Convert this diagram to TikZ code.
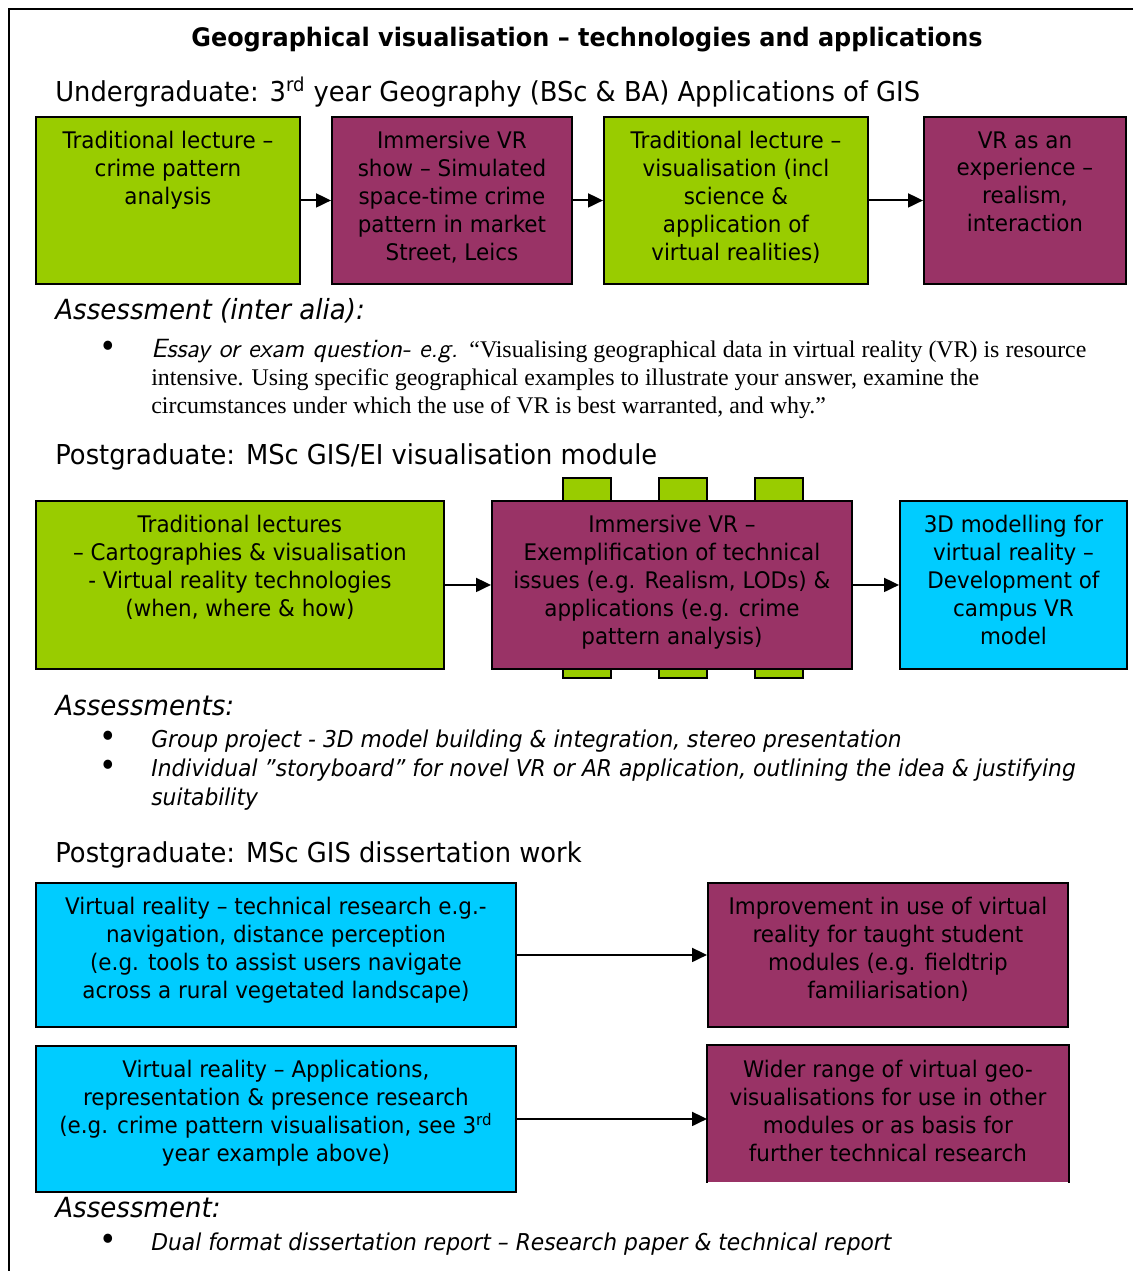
\documentclass[tikz,border=0pt]{standalone}
\usepackage{fontspec}
\setmainfont{DejaVu Sans}[FakeStretch=0.94]
\newfontfamily\quotefont{Liberation Serif}
\usetikzlibrary{arrows.meta}
\definecolor{lecgreen}{HTML}{99CC00}
\definecolor{vrpurple}{HTML}{993366}
\definecolor{vrblue}{HTML}{00CCFF}
\tikzset{
  card/.style={draw, line width=1.1pt, anchor=north west, inner sep=0pt},
  cardtext/.style={anchor=north, inner sep=0pt, align=center, font=\fontsize{13}{15.9}\selectfont},
  heading/.style={anchor=base west, inner sep=0pt, font=\fontsize{15.6}{18}\selectfont},
  assess/.style={anchor=base west, inner sep=0pt, font=\fontsize{15.8}{18}\selectfont\itshape},
  dot/.style={anchor=base, inner sep=0pt, font=\fontsize{18}{18}\selectfont},
  bullettext/.style={anchor=base west, inner sep=0pt, align=left, font=\fontsize{13.2}{16.5}\selectfont\itshape},
  flow/.style={line width=1.1pt, -{Triangle[length=0.3cm,width=0.28cm]}}
}

\begin{document}
\begin{tikzpicture}[x=0.02cm, y=-0.02cm]
\useasboundingbox (0,0) rectangle (1133,1271);
\draw[line width=1.7pt] (1133,9) -- (9,9) -- (9,1271);

\node[anchor=base, inner sep=0pt, font=\fontsize{14.5}{16}\selectfont\bfseries] (title) at (587,46)
  {Geographical visualisation – technologies and applications};

\node[heading] (ug) at (55,101) {Undergraduate: 3\textsuperscript{rd} year Geography (BSc \& BA) Applications of GIS};

\node[card, fill=lecgreen, minimum width=5.28cm, minimum height=3.34cm] (ugA) at (35,116) {};
\node[card, fill=vrpurple, minimum width=4.8cm, minimum height=3.34cm] (ugB) at (331,116) {};
\node[card, fill=lecgreen, minimum width=5.28cm, minimum height=3.34cm] (ugC) at (603,116) {};
\node[card, fill=vrpurple, minimum width=4.04cm, minimum height=3.34cm] (ugD) at (923,116) {};
\node[cardtext] (ugAtext) at ([yshift=-0.3cm]ugA.north) {Traditional lecture –\\crime pattern\\analysis};
\node[cardtext] (ugBtext) at ([yshift=-0.3cm]ugB.north) {Immersive VR\\show – Simulated\\space-time crime\\pattern in market\\Street, Leics};
\node[cardtext] (ugCtext) at ([yshift=-0.3cm]ugC.north) {Traditional lecture –\\visualisation (incl\\science \&\\application of\\virtual realities)};
\node[cardtext] (ugDtext) at ([yshift=-0.3cm]ugD.north) {VR as an\\experience –\\realism,\\interaction};
\draw[flow] (ugA) -- (ugB);
\draw[flow] (ugB) -- (ugC);
\draw[flow] (ugC) -- (ugD);

\node[assess] (ugassess) at (55,319) {Assessment (inter alia):};
\node[dot] (ugdot) at (108,357) {•};
\node[anchor=base west, inner sep=0pt, align=left, font=\quotefont\fontsize{13.6}{15.9}\selectfont] (ugquote) at (151,413)
  {{\sffamily\itshape\fontsize{15}{15.9}\selectfont Essay or exam question- e.g. }“Visualising geographical data in virtual reality (VR) is resource\\
   intensive. Using specific geographical examples to illustrate your answer, examine the\\
   circumstances under which the use of VR is best warranted, and why.”};

\node[heading] (pg) at (55,464) {Postgraduate: MSc GIS/EI visualisation module};

\foreach \tx in {563,659,755}
  \draw[fill=lecgreen, line width=1.1pt] (\tx,478) rectangle ++(48,200);
\node[card, fill=lecgreen, minimum width=8.16cm, minimum height=3.36cm] (pgE) at (35,500) {};
\node[card, fill=vrpurple, minimum width=7.2cm, minimum height=3.36cm] (pgF) at (491,500) {};
\node[card, fill=vrblue, minimum width=4.54cm, minimum height=3.36cm] (pgG) at (899,500) {};
\node[cardtext] (pgEtext) at ([yshift=-0.3cm]pgE.north) {Traditional lectures\\– Cartographies \& visualisation\\- Virtual reality technologies\\(when, where \& how)};
\node[cardtext] (pgFtext) at ([yshift=-0.3cm]pgF.north) {Immersive VR –\\Exemplification of technical\\issues (e.g. Realism, LODs) \&\\applications (e.g. crime\\pattern analysis)};
\node[cardtext] (pgGtext) at ([yshift=-0.3cm]pgG.north) {3D modelling for\\virtual reality –\\Development of\\campus VR\\model};
\draw[flow] (pgE) -- (pgF);
\draw[flow] (pgF) -- (pgG);

\node[assess] (pgassess) at (55,715) {Assessments:};
\node[dot] (pgdot1) at (108,747) {•};
\node[bullettext] (pgitem1) at (151,747) {Group project - 3D model building \& integration, stereo presentation};
\node[dot] (pgdot2) at (108,776) {•};
\node[bullettext] (pgitem2) at (151,805) {Individual "storyboard" for novel VR or AR application, outlining the idea \& justifying\\suitability};

\node[heading] (diss) at (55,862) {Postgraduate: MSc GIS dissertation work};

\node[card, fill=vrblue, minimum width=9.6cm, minimum height=2.88cm] (dissH) at (35,882) {};
\node[card, fill=vrpurple, minimum width=7.2cm, minimum height=2.88cm] (dissI) at (707,882) {};
\node[card, fill=vrblue, minimum width=9.6cm, minimum height=2.92cm] (dissJ) at (35,1045) {};
\node[card, draw=none, fill=vrpurple, minimum width=7.2cm, minimum height=2.72cm] (dissK) at (707,1045) {};
\draw[line width=1.1pt] (dissK.south west) -- (dissK.north west) -- (dissK.north east) -- (dissK.south east);
\node[cardtext] (dissHtext) at ([yshift=-0.3cm]dissH.north) {Virtual reality – technical research e.g.-\\navigation, distance perception\\(e.g. tools to assist users navigate\\across a rural vegetated landscape)};
\node[cardtext] (dissItext) at ([yshift=-0.3cm]dissI.north) {Improvement in use of virtual\\reality for taught student\\modules (e.g. fieldtrip\\familiarisation)};
\node[cardtext] (dissJtext) at ([yshift=-0.3cm]dissJ.north) {Virtual reality – Applications,\\representation \& presence research\\(e.g. crime pattern visualisation, see 3\textsuperscript{rd}\\year example above)};
\node[cardtext] (dissKtext) at ([yshift=-0.3cm]dissK.north) {Wider range of virtual geo-\\visualisations for use in other\\modules or as basis for\\further technical research};
\draw[flow] (dissH) -- (dissI);
\draw[flow] (dissJ.east) -- (dissJ.east -| dissK.west);

\node[assess] (dissassess) at (55,1217) {Assessment:};
\node[dot] (dissdot) at (108,1250) {•};
\node[bullettext] (dissitem) at (151,1250) {Dual format dissertation report – Research paper \& technical report};
\end{tikzpicture}
\end{document}
